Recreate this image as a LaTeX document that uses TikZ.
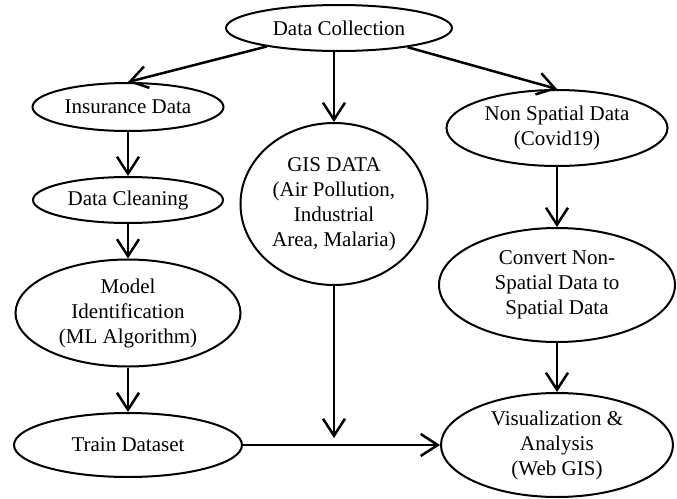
\documentclass[tikz,border=0pt]{standalone}
\usepackage{fontspec}
\setmainfont{Liberation Serif}
\usetikzlibrary{arrows.meta,calc,shapes.geometric}

\begin{document}
\begin{tikzpicture}[x=0.5pt,y=-0.5pt,
      >={Straight Barb[length=8.5pt,width=11pt]},
      flow/.style={->,line width=1.25pt,draw=black},
      item/.style={ellipse,draw=black,line width=1pt,inner sep=0pt,align=center,
        font=\fontsize{10.5}{12.5}\selectfont}
    ]
    \useasboundingbox (0,0) rectangle (677,499);

    \node[item,minimum width=113pt,minimum height=23pt] (dc) at (339,28)
      {Data Collection};

    % left column
    \node[item,minimum width=95.5pt,minimum height=24pt] (ins) at (128,107)
      {Insurance Data};
    \node[item,minimum width=95pt,minimum height=23pt] (clean) at (128,200)
      {Data Cleaning};
    \node[item,minimum width=112.5pt,minimum height=53.5pt] (model) at (128,313)
      {Model\\Identification\\(ML Algorithm)};
    \node[item,minimum width=114pt,minimum height=32pt] (train) at (128,445)
      {Train Dataset};

    % middle
    \node[item,minimum width=93.5pt,minimum height=81pt] (gis) at (334,204)
      {GIS DATA\\(Air Pollution,\\Industrial\\Area, Malaria)};

    % right column
    \node[item,minimum width=110.5pt,minimum height=38pt] (nonsp) at (557,128)
      {Non Spatial Data\\(Covid19)};
    \node[item,minimum width=118pt,minimum height=57pt] (conv) at (557,285)
      {Convert Non-\\Spatial Data to\\Spatial Data};
    \node[item,minimum width=116pt,minimum height=52pt] (vis) at (557,445)
      {Visualization \&\\Analysis\\(Web GIS)};

    \draw[flow] (dc) -- (ins.north);
    \draw[flow] (dc.south -| gis.north) -- (gis.north);
    \draw[flow] (dc) -- (nonsp.north);

    \draw[flow] (ins) -- (clean);
    \draw[flow] (clean) -- (model);
    \draw[flow] (model) -- (train);
    \draw[flow] (train.east) -- (vis.west);

    \coordinate (gisend) at ($(gis.south |- train.east)+(0,-7)$);
    \draw[flow] (gis.south) -- (gisend);

    \draw[flow] (nonsp) -- (conv);
    \draw[flow] (conv) -- (vis);
  \end{tikzpicture}
\end{document}
